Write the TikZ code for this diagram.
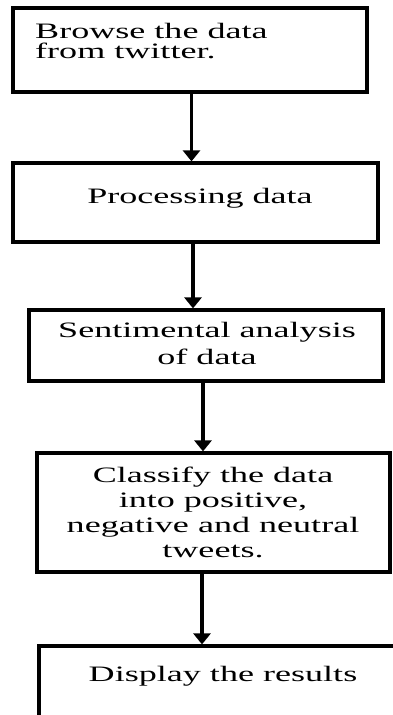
\documentclass[tikz,border=0pt]{standalone}
\usepackage{fontspec}
\setmainfont[FakeStretch=1.64]{Liberation Serif}
\usetikzlibrary{arrows.meta}
\begin{document}
\begin{tikzpicture}[x=1pt,y=-1pt,
  box/.style={rectangle, draw=black, fill=none, line width=3.2pt, inner sep=0pt},
  txt/.style={font=\fontsize{22}{25}\selectfont, inner sep=0pt, align=center, anchor=base},
  flow/.style={line width=3.4pt, -{Triangle[width=17pt,length=11pt]}}]
\clip (0,0) rectangle (393,715);
\useasboundingbox (0,0) rectangle (393,715);
% boxes
\node [box, minimum width=354pt, minimum height=84pt] (browse) at (190,50) {};
\node [box, minimum width=365pt, minimum height=79pt] (process) at (195.5,202.5) {};
\node [box, minimum width=354pt, minimum height=71pt] (senti) at (206,345.5) {};
\node [box, minimum width=353pt, minimum height=119pt] (classify) at (213.5,512.5) {};
\node [box, minimum width=400pt, minimum height=120pt] (display) at (239,706) {};
% texts (base = last line)
\node [txt, anchor=base west, align=left, font=\fontsize{22}{20}\selectfont] (tbrowse) at (35,58) {Browse the data\\from twitter.};
\node [txt] (tprocess) at (200,203) {Processing data};
\node [txt, font=\fontsize{22}{27}\selectfont] (tsenti) at (207,364) {Sentimental analysis\\of data};
\node [txt] (tclassify) at (213,557) {Classify the data\\into positive,\\negative and neutral\\tweets.};
\node [txt] (tdisplay) at (223,681) {Display the results};
% arrows
\draw [flow] ([xshift=1.5pt]browse.south) -- ([xshift=1.5pt]browse.south |- process.north);
\draw [flow] ([xshift=-2.5pt]process.south) -- ([xshift=-2.5pt]process.south |- senti.north);
\draw [flow] ([xshift=-3pt]senti.south) -- ([xshift=-3pt]senti.south |- classify.north);
\draw [flow] ([xshift=-11.5pt]classify.south) -- ([xshift=-11.5pt]classify.south |- display.north);
\end{tikzpicture}
\end{document}
